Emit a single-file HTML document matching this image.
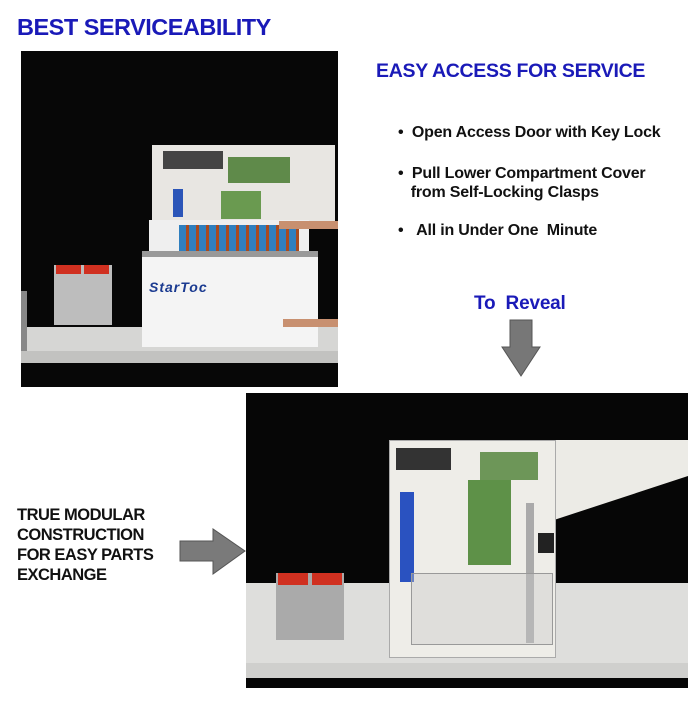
<!DOCTYPE html>
<html><head><meta charset="utf-8"><style>
body{margin:0;width:700px;height:703px;background:#fff;position:relative;overflow:hidden;font-family:"Liberation Sans",Arial,sans-serif}
.a{position:absolute}
.t{position:absolute;font-weight:bold;white-space:nowrap;letter-spacing:-0.2px}
.blue{color:#1a1ab8}
</style></head><body>
<div class="t blue" style="left:17px;top:14px;font-size:23.5px;letter-spacing:-0.5px">BEST SERVICEABILITY</div>
<div class="t blue" style="left:376px;top:60px;font-size:19.5px;letter-spacing:-0.3px">EASY ACCESS FOR SERVICE</div>
<div class="t" style="left:398px;top:124px;font-size:16px;color:#111">•&nbsp;&nbsp;Open Access Door with Key Lock</div>
<div class="t" style="left:398px;top:164px;font-size:16px;color:#111;line-height:19px">•&nbsp;&nbsp;Pull Lower Compartment Cover<br>&nbsp;&nbsp;&nbsp;from Self-Locking Clasps</div>
<div class="t" style="left:398px;top:222px;font-size:16px;color:#111">•&nbsp;&nbsp;&nbsp;All in Under One&nbsp; Minute</div>
<div class="t blue" style="left:474px;top:293px;font-size:19px">To&nbsp; Reveal</div>
<svg class="a" style="left:500px;top:318px" width="42" height="60"><polygon points="10,2 32,2 32,29 40,29 21,58 2,29 10,29" fill="#777" stroke="#555"/></svg>
<div class="t" style="left:17px;top:505px;font-size:16.5px;color:#111;line-height:20px;letter-spacing:-0.5px">TRUE MODULAR<br>CONSTRUCTION<br>FOR EASY PARTS<br>EXCHANGE</div>
<svg class="a" style="left:178px;top:527px" width="70" height="50"><polygon points="2,14 35,14 35,2 67,24 35,47 35,34 2,34" fill="#7a7a7a" stroke="#555"/></svg>

<div class="a" style="left:21px;top:51px;width:317px;height:336px;background:#070707;overflow:hidden">
 <div class="a" style="left:0;top:276px;width:317px;height:36px;background:#d6d6d4"></div>
 <div class="a" style="left:0;top:300px;width:317px;height:12px;background:#c2c2c0"></div>
 <div class="a" style="left:0;top:240px;width:6px;height:60px;background:#888"></div>
 <div class="a" style="left:131px;top:94px;width:183px;height:76px;background:#e8e6e2"></div>
 <div class="a" style="left:142px;top:100px;width:60px;height:18px;background:#444"></div>
 <div class="a" style="left:207px;top:106px;width:62px;height:26px;background:#5f8a4a"></div>
 <div class="a" style="left:200px;top:140px;width:40px;height:28px;background:#6a9a50"></div>
 <div class="a" style="left:152px;top:138px;width:10px;height:28px;background:#2b55b8"></div>
 <div class="a" style="left:128px;top:169px;width:160px;height:48px;background:#efefef"></div>
 <div class="a" style="left:158px;top:174px;width:120px;height:38px;background:repeating-linear-gradient(90deg,#2f7fbf 0 7px,#a84a20 7px 10px)"></div>
 <div class="a" style="left:121px;top:200px;width:176px;height:90px;background:#f4f4f4;border-top:6px solid #999"></div>
 <div class="t" style="left:128px;top:228px;font-size:14px;color:#1a3a90;font-style:italic;letter-spacing:1px">StarToc</div>
 <div class="a" style="left:33px;top:214px;width:58px;height:60px;background:#bdbdbd"></div>
 <div class="a" style="left:35px;top:214px;width:25px;height:9px;background:#d03020"></div>
 <div class="a" style="left:63px;top:214px;width:25px;height:9px;background:#d03020"></div>
 <div class="a" style="left:258px;top:170px;width:59px;height:8px;background:#c89070"></div>
 <div class="a" style="left:262px;top:268px;width:55px;height:8px;background:#c89070"></div>
</div>

<div class="a" style="left:246px;top:393px;width:442px;height:295px;background:#060606;overflow:hidden">
 <div class="a" style="left:0;top:190px;width:442px;height:95px;background:#dededc"></div>
 <div class="a" style="left:0;top:270px;width:442px;height:15px;background:#cfcfcd"></div>
 <div class="a" style="left:308px;top:47px;width:134px;height:80px;background:#ecebe6;clip-path:polygon(0 0,100% 0,100% 45%,0 100%)"></div>
 <div class="a" style="left:143px;top:47px;width:165px;height:216px;background:#eeede8;border:1px solid #aaa"></div>
 <div class="a" style="left:150px;top:55px;width:55px;height:22px;background:#333"></div>
 <div class="a" style="left:234px;top:59px;width:58px;height:28px;background:#6d9658"></div>
 <div class="a" style="left:222px;top:87px;width:43px;height:85px;background:#5e9148"></div>
 <div class="a" style="left:154px;top:99px;width:14px;height:90px;background:#2a52c0"></div>
 <div class="a" style="left:280px;top:110px;width:8px;height:140px;background:#aaa"></div>
 <div class="a" style="left:292px;top:140px;width:16px;height:20px;background:#222"></div>
 <div class="a" style="left:165px;top:180px;width:140px;height:70px;border:1px solid #999;background:rgba(200,200,200,.4)"></div>
 <div class="a" style="left:30px;top:180px;width:68px;height:67px;background:#aaa"></div>
 <div class="a" style="left:32px;top:180px;width:30px;height:12px;background:#d03020"></div>
 <div class="a" style="left:66px;top:180px;width:30px;height:12px;background:#d03020"></div>
</div>
</body></html>
